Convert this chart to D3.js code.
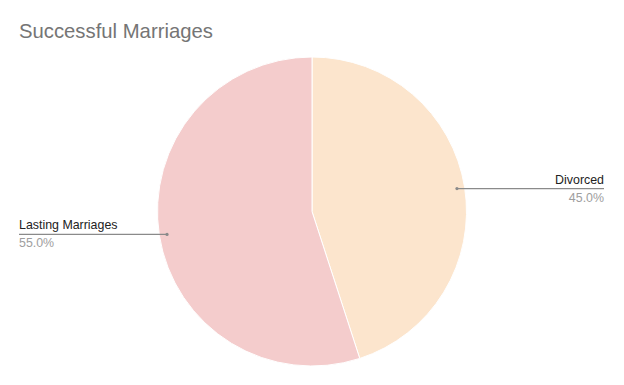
<!DOCTYPE html>
<html>
<head>
  <script src="https://cdn.jsdelivr.net/npm/d3@7"></script>
  <style>
    html, body { margin: 0; background: #fff; }
    svg { font-family: Arial, "Liberation Sans", sans-serif; }
  </style>
</head>
<body>
<div id="chart"></div>
<script>
  var categories = ["Divorced", "Lasting Marriages"],
      values = [45, 55],
      colors = ["#fce5cd", "#f4cccc"];

  var width = 624, height = 385,
      cx = 312, cy = 211.5, radius = 154.5;

  var svg = d3.select("#chart").append("svg")
      .attr("width", width)
      .attr("height", height);

  svg.append("rect").attr("width", width).attr("height", height).attr("fill", "#fff");

  svg.append("text")
      .attr("x", 19)
      .attr("y", 38)
      .attr("fill", "#757575")
      .style("font-size", "20.3px")
      .text("Successful Marriages");

  var data = categories.map(function(c, i) { return { name: c, value: values[i], color: colors[i] }; });

  var pie = d3.pie().sort(null).value(function(d) { return d.value; });
  var arc = d3.arc().innerRadius(0).outerRadius(radius);
  var total = d3.sum(values);
  var fmt = d3.format(".1%");

  var g = svg.append("g").attr("transform", "translate(" + cx + "," + cy + ")");
  var arcs = pie(data);

  g.selectAll("path")
    .data(arcs)
    .enter().append("path")
      .attr("d", arc)
      .attr("fill", function(d) { return d.data.color; })
      .attr("stroke", "#fff")
      .attr("stroke-width", 1);

  // leader lines and labels
  arcs.forEach(function(d) {
    var mid = (d.startAngle + d.endAngle) / 2,
        r = radius * 0.95,
        px = cx + r * Math.sin(mid),
        py = cy - r * Math.cos(mid),
        right = Math.sin(mid) > 0,
        ex = right ? 604 : 19;

    svg.append("line")
        .attr("x1", px).attr("y1", py)
        .attr("x2", ex).attr("y2", py)
        .attr("stroke", "#8a8a8a")
        .attr("stroke-width", 1.2);
    svg.append("circle")
        .attr("cx", px).attr("cy", py).attr("r", 1.6)
        .attr("fill", "#8a8a8a");

    svg.append("text")
        .attr("x", ex)
        .attr("y", py - 5)
        .attr("text-anchor", right ? "end" : "start")
        .attr("fill", "#222")
        .style("font-size", "12.4px")
        .text(d.data.name);

    svg.append("text")
        .attr("x", ex)
        .attr("y", py + 13)
        .attr("text-anchor", right ? "end" : "start")
        .attr("fill", "#9e9e9e")
        .style("font-size", "12.4px")
        .text(fmt(d.data.value / total));
  });
</script>
</body>
</html>
